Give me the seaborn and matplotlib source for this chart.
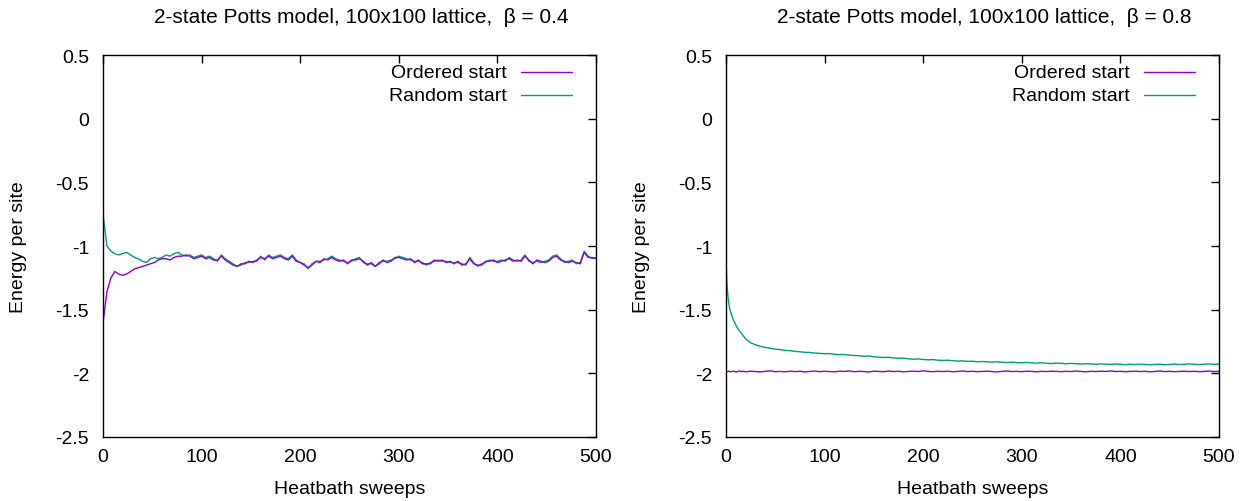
import numpy as np
import pandas as pd
import matplotlib
matplotlib.use("Agg")
import matplotlib.pyplot as plt
import seaborn as sns

# ---------------- data ----------------
series_names = ["Ordered start", "Random start"]
titles = ["2-state Potts model, 100x100 lattice,  \u03b2 = 0.4",
          "2-state Potts model, 100x100 lattice,  \u03b2 = 0.8"]
x_ticks = [0, 100, 200, 300, 400, 500]
y_ticks = [-2.5, -2.0, -1.5, -1.0, -0.5, 0.0, 0.5]
y_tick_labels = ["-2.5", "-2", "-1.5", "-1", "-0.5", "0", "0.5"]

# beta = 0.4, sampled every 4 sweeps (0..500)
random_b04 = [
    -0.75, -1.00, -1.04, -1.06, -1.07, -1.06, -1.05, -1.07, -1.09, -1.10,
    -1.12, -1.13, -1.10, -1.09, -1.10, -1.09, -1.07, -1.08, -1.06, -1.05,
    -1.07, -1.08, -1.07, -1.09, -1.08, -1.07, -1.09, -1.08, -1.10, -1.12,
    -1.07, -1.10, -1.12, -1.14, -1.16, -1.15, -1.13, -1.13, -1.12, -1.12,
    -1.08, -1.11, -1.07, -1.09, -1.08, -1.07, -1.09, -1.10, -1.07, -1.11,
    -1.13, -1.14, -1.18, -1.14, -1.12, -1.12, -1.11, -1.10, -1.08, -1.10,
    -1.11, -1.12, -1.13, -1.12, -1.10, -1.09, -1.13, -1.14, -1.14, -1.16,
    -1.13, -1.12, -1.12, -1.11, -1.10, -1.08, -1.09, -1.10, -1.11, -1.12,
    -1.12, -1.13, -1.15, -1.13, -1.12, -1.11, -1.12, -1.12, -1.13, -1.13,
    -1.13, -1.14, -1.15, -1.09, -1.13, -1.16, -1.14, -1.13, -1.11, -1.12,
    -1.12, -1.11, -1.12, -1.09, -1.11, -1.12, -1.11, -1.07, -1.12, -1.13,
    -1.12, -1.13, -1.12, -1.11, -1.08, -1.07, -1.10, -1.13, -1.12, -1.11,
    -1.14, -1.13, -1.04, -1.08, -1.10, -1.09,
]
ordered_b04 = [
    -1.60, -1.36, -1.25, -1.20, -1.22, -1.23, -1.22, -1.20, -1.18, -1.17,
    -1.16, -1.15, -1.14, -1.13, -1.11, -1.10, -1.10, -1.11, -1.09, -1.08,
    -1.08, -1.07, -1.08, -1.10, -1.09, -1.08, -1.10, -1.09, -1.11, -1.11,
    -1.08, -1.11, -1.13, -1.15, -1.16, -1.14, -1.14, -1.12, -1.13, -1.11,
    -1.09, -1.10, -1.08, -1.10, -1.09, -1.08, -1.10, -1.11, -1.08, -1.12,
    -1.13, -1.15, -1.17, -1.15, -1.12, -1.13, -1.10, -1.11, -1.09, -1.11,
    -1.12, -1.11, -1.14, -1.11, -1.11, -1.10, -1.12, -1.15, -1.13, -1.16,
    -1.14, -1.11, -1.13, -1.12, -1.09, -1.09, -1.10, -1.11, -1.10, -1.13,
    -1.11, -1.14, -1.14, -1.14, -1.11, -1.12, -1.11, -1.13, -1.12, -1.14,
    -1.12, -1.15, -1.14, -1.10, -1.14, -1.15, -1.15, -1.12, -1.12, -1.11,
    -1.13, -1.12, -1.11, -1.10, -1.12, -1.11, -1.12, -1.08, -1.11, -1.14,
    -1.11, -1.12, -1.13, -1.12, -1.09, -1.08, -1.11, -1.12, -1.13, -1.12,
    -1.13, -1.14, -1.05, -1.09, -1.09, -1.10,
]

# beta = 0.8
sweeps_b08_early = [0, 1, 2, 3, 4, 6, 8, 10, 12, 14, 16, 18, 20]
random_b08 = [
    -1.10, -1.30, -1.40, -1.46, -1.50, -1.55, -1.59, -1.62, -1.65, -1.67,
    -1.69, -1.71, -1.73,
    -1.760, -1.776, -1.788, -1.797, -1.803, -1.810, -1.814, -1.820, -1.822, -1.828,
    -1.831, -1.835, -1.836, -1.841, -1.843, -1.846, -1.845, -1.850, -1.853, -1.852,
    -1.857, -1.860, -1.862, -1.866, -1.864, -1.870, -1.873, -1.876, -1.874, -1.879,
    -1.882, -1.881, -1.886, -1.889, -1.887, -1.891, -1.894, -1.892, -1.897, -1.899,
    -1.897, -1.901, -1.904, -1.902, -1.906, -1.905, -1.909, -1.907, -1.910, -1.912,
    -1.909, -1.913, -1.915, -1.912, -1.916, -1.917, -1.914, -1.918, -1.920, -1.917,
    -1.921, -1.923, -1.920, -1.922, -1.925, -1.922, -1.924, -1.927, -1.924, -1.926,
    -1.929, -1.926, -1.928, -1.930, -1.927, -1.929, -1.932, -1.929, -1.931, -1.928,
    -1.930, -1.933, -1.930, -1.929, -1.932, -1.930, -1.927, -1.931, -1.929, -1.926,
    -1.929, -1.931, -1.928, -1.926, -1.929, -1.927,
]
ordered_b08 = [
    -1.990, -1.984, -1.987, -1.982, -1.988, -1.985, -1.983, -1.989, -1.986, -1.981,
    -1.987, -1.984, -1.988,
    -1.983, -1.986, -1.989, -1.984, -1.981, -1.987, -1.985, -1.988, -1.983, -1.986,
    -1.984, -1.989, -1.985, -1.982, -1.987, -1.984, -1.986, -1.988, -1.983, -1.985,
    -1.981, -1.987, -1.984, -1.986, -1.989, -1.983, -1.985, -1.987, -1.982, -1.986,
    -1.984, -1.988, -1.985, -1.983, -1.986, -1.980, -1.985, -1.987, -1.984, -1.986,
    -1.983, -1.988, -1.985, -1.982, -1.986, -1.984, -1.987, -1.985, -1.983, -1.986,
    -1.989, -1.984, -1.982, -1.986, -1.985, -1.987, -1.983, -1.985, -1.988, -1.984,
    -1.986, -1.983, -1.985, -1.987, -1.984, -1.986, -1.982, -1.985, -1.988, -1.984,
    -1.986, -1.983, -1.985, -1.981, -1.986, -1.984, -1.987, -1.985, -1.983, -1.986,
    -1.984, -1.988, -1.985, -1.982, -1.986, -1.984, -1.987, -1.985, -1.983, -1.986,
    -1.984, -1.987, -1.985, -1.982, -1.986, -1.984,
]

colors = {"Ordered start": "#9400d3", "Random start": "#009e73"}

sweeps_b04 = list(range(0, 4 * len(random_b04), 4))
sweeps_b08 = sweeps_b08_early + list(range(25, 501, 5))

frames = []
for name, vals in zip(series_names, [ordered_b04, random_b04]):
    frames.append(pd.DataFrame({"sweep": sweeps_b04, "energy": vals, "series": name}))
df04 = pd.concat(frames, ignore_index=True)
frames = []
for name, vals in zip(series_names, [ordered_b08, random_b08]):
    frames.append(pd.DataFrame({"sweep": sweeps_b08[:len(vals)], "energy": vals, "series": name}))
df08 = pd.concat(frames, ignore_index=True)

# ---------------- plot ----------------
sns.set_theme(style="white")
plt.rcParams["font.family"] = ["Liberation Sans", "DejaVu Sans"]

fig = plt.figure(figsize=(12.43, 5.02), dpi=100)
ax1 = fig.add_axes([103 / 1243, 1 - 438 / 502, 493 / 1243, 382 / 502])
ax2 = fig.add_axes([726 / 1243, 1 - 438 / 502, 493 / 1243, 382 / 502])

fs = 14
for ax, df, title in [(ax1, df04, titles[0]), (ax2, df08, titles[1])]:
    sns.lineplot(data=df, x="sweep", y="energy", hue="series",
                 palette=colors, hue_order=series_names[::-1],
                 linewidth=1.0, ax=ax, legend=False, estimator=None, sort=False)
    ax.set_xlim(0, 500)
    ax.set_ylim(-2.5, 0.5)
    ax.set_xticks(x_ticks)
    ax.set_yticks(y_ticks)
    ax.set_yticklabels(y_tick_labels)
    ax.tick_params(direction="in", length=6, width=1, colors="black",
                   labelsize=fs, top=True, right=True)
    ax.tick_params(axis="x", pad=8)
    ax.tick_params(axis="y", pad=10)
    for sp in ax.spines.values():
        sp.set_color("black")
        sp.set_linewidth(1.0)
    ax.set_xlabel("Heatbath sweeps", fontsize=fs, color="black")
    ax.set_ylabel("Energy per site", fontsize=fs, color="black")
    ax.xaxis.set_label_coords(0.5, -0.113)
    ax.yaxis.set_label_coords(-0.154, 0.5)
    ax.text(0.524, 1.102, title, transform=ax.transAxes, ha="center", va="center",
            fontsize=fs + 1, color="black")
    # gnuplot-style key: right-aligned text followed by line sample
    for i, name in enumerate(series_names):
        yk = 0.955 - 0.06 * i
        ax.text(0.819, yk, name, transform=ax.transAxes, ha="right", va="center",
                fontsize=fs, color="black")
        ax.plot([0.848, 0.951], [yk, yk], transform=ax.transAxes,
                color=colors[name], linewidth=1.0)

fig.savefig("out.png", dpi=100)
